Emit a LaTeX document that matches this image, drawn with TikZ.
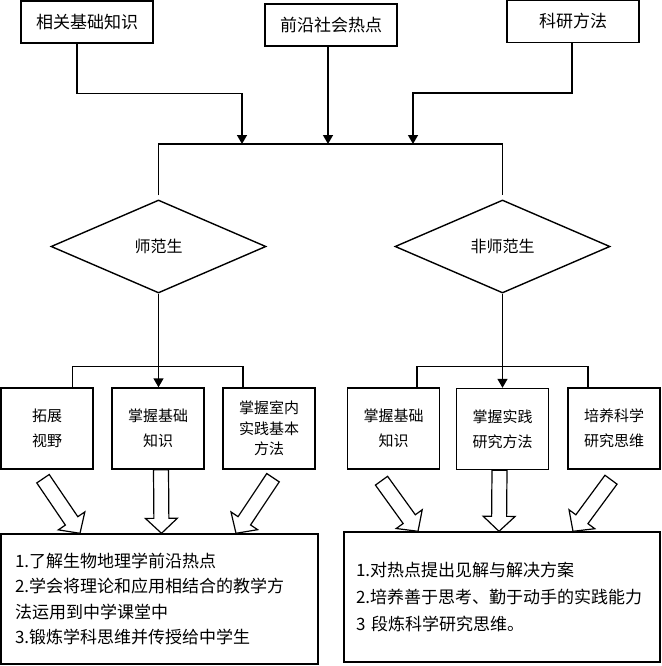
\documentclass[tikz,border=0pt]{standalone}
\usepackage{fontspec}
\setmainfont{Noto Sans CJK SC}
\usetikzlibrary{shapes.geometric, arrows.meta, calc}

\newcommand{\fatarrow}[2]{%
	\coordinate (fat-tail) at (#1);
	\coordinate (fat-tip) at (#2);
	\coordinate (fat-neck) at ($(fat-tip)!15pt!(fat-tail)$);
	\draw [fat] ($(fat-tail)!7.5pt!90:(fat-tip)$) -- ($(fat-neck)!7.5pt!-90:(fat-tail)$)
		-- ($(fat-neck)!16pt!-90:(fat-tail)$) -- (fat-tip) -- ($(fat-neck)!16pt!90:(fat-tail)$)
		-- ($(fat-neck)!7.5pt!90:(fat-tail)$) -- ($(fat-tail)!7.5pt!-90:(fat-tip)$) -- cycle;
}

\begin{document}
\begin{tikzpicture}[x = 1pt, y = -1pt, > = {Triangle[length = 9pt, width = 10pt]}, line width = 1.4pt,
	source/.style = {draw, minimum width = 132pt, minimum height = 42pt, inner sep = 0pt, font = \fontsize{17}{20}\selectfont},
	choice/.style = {diamond, draw, minimum width = 215pt, minimum height = 93pt, inner sep = 0pt, font = \fontsize{16}{20}\selectfont},
	goal/.style = {draw, minimum width = 92pt, minimum height = 81pt, inner sep = 0pt, align = center, font = \fontsize{15}{25}\selectfont},
	outcome/.style = {draw, minimum height = 130pt, inner xsep = 14pt, inner ysep = 0pt, align = left},
	fat/.style = {draw, fill = white, line width = 1.2pt, line join = miter}]

	\useasboundingbox (0, 0) rectangle (661, 666);

	% Sources
	
	\node [source] (basics) at (87, 22) {相关基础知识};
	\node [source] (hotspots) at (331, 25) {前沿社会热点};
	\node [source] (methods) at (573, 21.5) {科研方法};
	
	\coordinate (in1) at (242, 144);
	\coordinate (in2) at (328, 144);
	\coordinate (in3) at (413, 144);
	
	\draw [->] ([xshift = -10pt] basics.south) -- ++(0, 50) -| (in1);
	\draw [->] (hotspots.south -| in2) -- (in2);
	\draw [->] ([xshift = -1pt] methods.south) -- ++(0, 50) -| (in3);
	
	% Student types
	
	\node [choice] (normal) at (158.5, 246.5) {师范生};
	\node [choice] (other) at (502.5, 246.5) {非师范生};
	
	\draw ([yshift = 4pt] normal.north) |- (in2) -| ([yshift = 4pt] other.north);
	
	% Goals
	
	\node [goal] (g1) at (47, 428.5) {拓展\\视野};
	\node [goal] (g2) at (158, 428.5) {掌握基础\\知识};
	\node [goal, font = \fontsize{15}{20.5}\selectfont] (g3) at (269, 428.5) {掌握室内\\实践基本\\方法};
	\node [goal] (g4) at (393.5, 428.5) {掌握基础\\知识};
	\node [goal] (g5) at (502.5, 429) {掌握实践\\研究方法};
	\node [goal] (g6) at (614, 428.5) {培养科学\\研究思维};
	
	\draw [->] (normal.south) -- (normal.south |- g2.north);
	\draw (72.5, 0 |- g1.north) -- ++(0, -21) -| (243, 0 |- g3.north);
	\draw [->] (other.south) -- (other.south |- g5.north);
	\draw (417, 0 |- g4.north) -- ++(0, -21) -| (588, 0 |- g6.north);
	
	% Outcomes
	
	\node [outcome, text width = 289pt, font = \fontsize{17}{25.5}\selectfont] (res1) at (159.5, 599)
		{1.了解生物地理学前沿热点\\2.学会将理论和应用相结合的教学方\\法运用到中学课堂中\\3.锻炼学科思维并传授给中学生};
	\node [outcome, text width = 292pt, inner xsep = 12pt, font = \fontsize{17}{27}\selectfont] (res2) at (502, 597)
		{1.对热点提出见解与解决方案\\2.培养善于思考、勤于动手的实践能力\\3 段炼科学研究思维。};
	
	% Hollow arrows
	
	\fatarrow{[xshift = -4pt, yshift = -9pt] g1.south}{80, 0 |- res1.north}
	\fatarrow{[xshift = 3pt] g2.south}{161.5, 0 |- res1.north}
	\fatarrow{[xshift = 4pt, yshift = -8pt] g3.south}{236, 0 |- res1.north}
	\fatarrow{[xshift = -12pt, yshift = -11pt] g4.south}{418, 0 |- res2.north}
	\fatarrow{[xshift = -3pt] g5.south}{499, 0 |- res2.north}
	\fatarrow{[xshift = -3pt, yshift = -10pt] g6.south}{573, 0 |- res2.north}
	
\end{tikzpicture}
\end{document}
